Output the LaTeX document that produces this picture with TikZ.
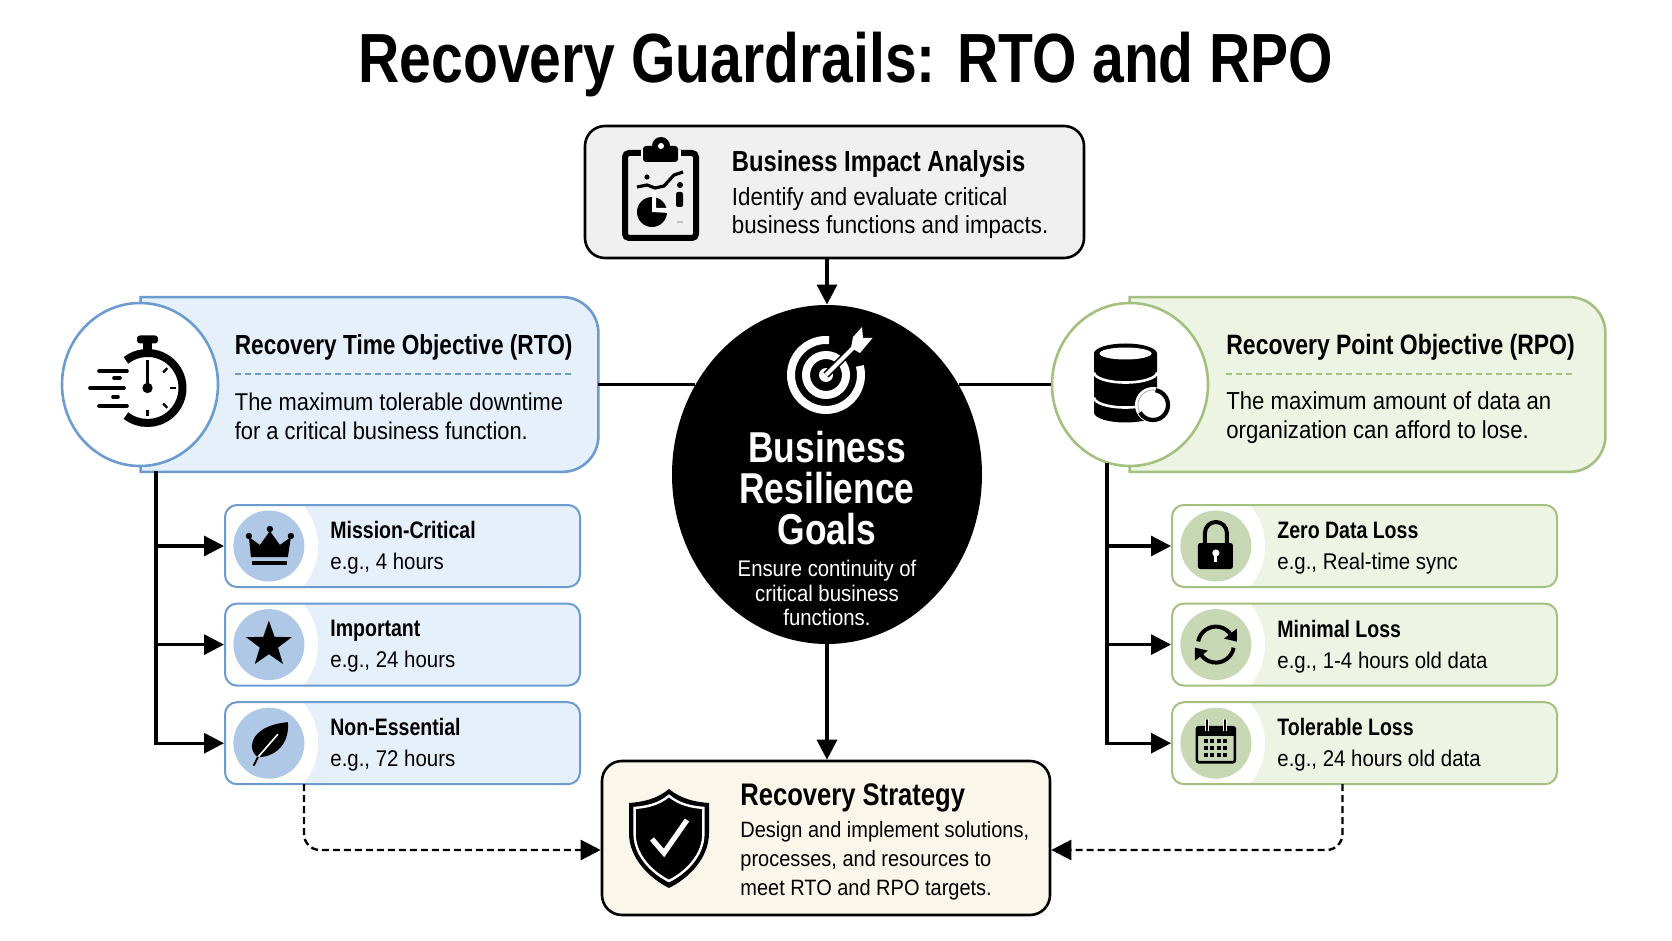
\documentclass[tikz,border=0pt]{standalone}
\usepackage{fontspec}
\setmainfont[FakeStretch=0.9,BoldFeatures={FakeStretch=0.82}]{Liberation Sans}
\usetikzlibrary{arrows.meta,positioning,shapes.geometric}
\definecolor{rtoline}{HTML}{6C9BCF}
\definecolor{rtofill}{HTML}{E6F0FA}
\definecolor{rtodot}{HTML}{AEC8E6}
\definecolor{rpoline}{HTML}{A3C07F}
\definecolor{rpofill}{HTML}{EDF4E4}
\definecolor{rpodot}{HTML}{C8D8B4}
\definecolor{biafill}{HTML}{F0F0F0}
\definecolor{stratfill}{HTML}{FBF6EA}
\newcommand{\subhead}[1]{{\fontsize{11.9}{15.5}\selectfont\bfseries #1}}
\tikzset{
  link/.style={line width=1.6pt,-{Triangle[length=10pt,width=10pt]}},
  plainlink/.style={line width=1.4pt},
  dashlink/.style={line width=1.2pt,dash pattern=on 3.5pt off 2pt,rounded corners=8pt,-{Triangle[length=10pt,width=10pt]}},
  mainbox/.style={draw=black,line width=1.3pt,rounded corners=10pt,inner sep=0pt},
  panelbase/.style={inner sep=0pt,minimum height=87pt},
  round/.style={ellipse,draw=#1,fill=white,line width=1.3pt,inner sep=0pt,minimum width=78pt,minimum height=81.5pt},
  subbox/.style={draw=#1line,fill=#1fill,line width=1pt,rounded corners=6pt,inner sep=0pt,minimum height=41pt,
    path picture={\fill[white] ([xshift=15pt]path picture bounding box.west) circle[radius=31.5pt];}},
  dot/.style={circle,fill=#1dot,inner sep=0pt,minimum size=35.5pt},
  boxhead/.style={anchor=west,inner sep=0pt,font=\fontsize{#1}{16}\selectfont\bfseries},
  boxtext/.style={anchor=west,inner sep=0pt,align=left,font=\fontsize{#1}{14.4}\selectfont},
  subtext/.style={anchor=west,inner sep=0pt,yshift=-1pt,align=left,font=\fontsize{11.35}{15.5}\selectfont},
  goaltext/.style={white,inner sep=0pt,align=center},
  clipicon/.pic={
    \draw[line width=3pt,rounded corners=2pt] (-36,-37) rectangle (35,48);
    \fill[white] (-20,-40) rectangle (20,-32);
    \fill[rounded corners=1.5pt] (-18,-44) rectangle (17,-28);
    \fill (0,-44) circle[radius=4.5pt];
    \fill[white] (0,-44) circle[radius=1.5pt];
    \draw[line width=1.6pt] (-24,-3) -- (-14,-5) -- (-6,-2) -- (3,-4) -- (13,-15) -- (22,-18);
    \fill (-14,-13) circle[radius=1.3pt];
    \fill (-9,22) circle[radius=7.5pt];
    \fill[white] (-9,22) -- (-9,2) -- (-5,2) -- (-5,18) -- (9,18) -- (9,23) -- cycle;
    \fill[rounded corners=1pt] (15,2) rectangle (22,17);
    \fill (19,-5) circle[radius=1.5pt];
    \fill[gray!50] (16,31) rectangle (22,33);
  },
  watchicon/.pic={
    \fill[rounded corners=1.5pt] (-3,-49) rectangle (18,-41);
    \fill (3,-42) rectangle (12,-33);
    \draw[line width=4pt] (7.5,3.5) ++(128:17.5pt) arc[start angle=128,end angle=-128,radius=17.5pt];
    \draw[line width=1.6pt] (7.5,-24) -- (7.5,3.5);
    \fill (7.5,3.5) circle[radius=2.6pt];
    \foreach \a in {45,0,-45,-90}
      \draw[line width=1.1pt] (7.5,3.5) ++(\a:11pt) -- ++(\a:3pt);
    \draw[line width=1.8pt,line cap=round] (-41,-13.5) -- (-13,-13.5);
    \draw[line width=1.8pt,line cap=round] (-26,-6.5) -- (-20,-6.5);
    \draw[line width=1.8pt,line cap=round] (-50,3.5) -- (-16,3.5);
    \draw[line width=1.8pt,line cap=round] (-27,12.5) -- (-22,12.5);
    \draw[line width=1.8pt,line cap=round] (-41,21.5) -- (-13,21.5);
  },
  dbicon/.pic={
    \fill (-36,-31) arc[start angle=180,end angle=0,x radius=15.75pt,y radius=5pt]
      -- (27,28) arc[start angle=0,end angle=-180,x radius=15.75pt,y radius=5pt] -- cycle;
    \fill[white] (-4.5,-31) ellipse[x radius=13pt,y radius=3pt];
    \draw[white,line width=1.3pt] (-36,-12) arc[start angle=180,end angle=360,x radius=15.75pt,y radius=5pt];
    \draw[white,line width=1.3pt] (-36,13) arc[start angle=180,end angle=360,x radius=15.75pt,y radius=5pt];
    \fill[white] (23,20.5) circle[radius=9pt];
    \draw[gray!70,line width=.4pt] (23,20.5) circle[radius=7.5pt];
    \draw[line width=2.1pt] (23,20.5) ++(80:7.5pt) arc[start angle=80,end angle=-150,radius=7.5pt];
  },
  goalicon/.pic={
    \draw[white,line width=4pt] (0,0) ++(85:17.5pt) arc[start angle=85,end angle=375,radius=17.5pt];
    \draw[white,line width=4pt] (0,0) circle[radius=10pt];
    \fill[white] (0,0) circle[radius=3.5pt];
    \draw[black,line width=3.6pt] (0,0) -- (27,-27);
    \draw[white,line width=2pt] (0,0) -- (27,-27);
    \fill[white] (27,-38) -- (36,-48) -- (37,-37) -- (46.5,-37) -- (34,-22) -- (25,-27) -- cycle;
  },
  crownicon/.pic={
    \fill (-18,11) -- (-20,-9) -- (-9,-1) -- (1,-15) -- (11,-1) -- (22,-9) -- (19,11) -- cycle;
    \fill (-20,-10) circle[radius=1.6pt] (1,-17) circle[radius=1.6pt] (22,-10) circle[radius=1.6pt];
    \fill (-17,15) rectangle (18,19);
  },
  staricon/.pic={
    \fill (90:12pt) -- (126:4.8pt) -- (162:12pt) -- (198:4.8pt) -- (234:12pt) -- (270:4.8pt)
      -- (306:12pt) -- (342:4.8pt) -- (18:12pt) -- (54:4.8pt) -- cycle;
  },
  leaficon/.pic={
    \fill (19,-21) .. controls (5,-20) and (-16,-14) .. (-17,3) .. controls (-17,8) and (-14,12) .. (-11,14)
      .. controls (5,14) and (21,2) .. (19,-21) -- cycle;
    \draw[white,line width=.8pt] (9,-9) -- (-11,14);
    \draw[line width=1pt,line cap=round] (-11,14) -- (-15,22);
  },
  lockicon/.pic={
    \draw[line width=2pt] (-11,0) -- (-11,-13) arc[start angle=180,end angle=0,radius=5.5pt] -- (11,0);
    \fill[rounded corners=1.2pt] (-18,-3) rectangle (17,23);
    \fill[white] (0,7) circle[radius=1.8pt];
    \fill[white] (-1.5,7) rectangle (1.5,16);
  },
  syncicon/.pic={
    \draw[line width=2pt] (170:9pt) arc[start angle=170,end angle=30,radius=9pt];
    \draw[line width=2pt] (-10:9pt) arc[start angle=-10,end angle=-150,radius=9pt];
    \fill (21,-16) -- (21,-3) -- (8,-6) -- cycle;
    \fill (-21,16) -- (-21,3) -- (-8,6) -- cycle;
  },
  calicon/.pic={
    \draw[line width=1.3pt,rounded corners=1pt] (-19,-16) rectangle (19,19);
    \fill (-19,-16) rectangle (19,-7);
    \draw[white,line width=2.4pt] (-9,-24) -- (-9,-12) (9,-24) -- (9,-12);
    \draw[line width=1.2pt,line cap=round] (-9,-23) -- (-9,-13) (9,-23) -- (9,-13);
    \foreach \py in {-2,5,12}
      \foreach \px in {-10,-3.5,3,9.5}
        \fill (\px-2,\py-2) rectangle (\px+2,\py+2);
  },
  shieldicon/.pic={
    \fill (0,-49) .. controls (12,-39) and (26,-36) .. (40,-35) -- (40,-5) .. controls (40,20) and (20,40) .. (0,50)
      .. controls (-20,40) and (-40,20) .. (-40,-5) -- (-40,-35) .. controls (-26,-36) and (-12,-39) .. (0,-49) -- cycle;
    \draw[white,line width=1.2pt,scale=.86] (0,-49) .. controls (12,-39) and (26,-36) .. (40,-35) -- (40,-5) .. controls (40,20) and (20,40) .. (0,50)
      .. controls (-20,40) and (-40,20) .. (-40,-5) -- (-40,-35) .. controls (-26,-36) and (-12,-39) .. (0,-49) -- cycle;
    \draw[white,line width=2.6pt] (-17,1) -- (-5,15) -- (18,-18);
  }
}
\begin{document}
\begin{tikzpicture}[x=.5pt,y=-.5pt,node distance=7.3pt]
  \useasboundingbox (0,0) rectangle (1672,941);
  \node[inner sep=0pt,font=\fontsize{34.8}{36}\selectfont\bfseries] (title) at (846,65) {Recovery Guardrails: RTO and RPO};

  \node[mainbox,fill=biafill,minimum width=249.5pt,minimum height=66pt] (bia) at (834.5,192) {};
  \node[ellipse,fill=black,inner sep=0pt,minimum width=155pt,minimum height=169.5pt] (goal) at (827,474.5) {};
  \node[mainbox,fill=stratfill,minimum width=224pt,minimum height=77pt] (strategy) at (826,838) {};

  \node[panelbase,minimum width=228.5pt] (rtoPanel) at (369.5,384.5) {};
  \node[panelbase,minimum width=237.5pt] (rpoPanel) at (1367.5,384.5) {};
  \draw[draw=rtoline,fill=rtofill,line width=1.3pt] (rtoPanel.north west) [rounded corners=18pt] -- (rtoPanel.north east) -- (rtoPanel.south east) [sharp corners] -- (rtoPanel.south west) -- cycle;
  \draw[draw=rpoline,fill=rpofill,line width=1.3pt] (rpoPanel.north west) [rounded corners=18pt] -- (rpoPanel.north east) -- (rpoPanel.south east) [sharp corners] -- (rpoPanel.south west) -- cycle;
  \node[round=rtoline] (rtoCircle) at (140,384.5) {};
  \node[round=rpoline] (rpoCircle) at (1130,384.5) {};

  \node[subbox=rto,minimum width=177.5pt] (mission) at (402.5,546) {};
  \node[subbox=rto,minimum width=177.5pt,below=of mission] (important) {};
  \node[subbox=rto,minimum width=177.5pt,below=of important] (nonEssential) {};
  \node[subbox=rpo,minimum width=192.5pt] (zeroLoss) at (1364.5,546) {};
  \node[subbox=rpo,minimum width=192.5pt,below=of zeroLoss] (minimalLoss) {};
  \node[subbox=rpo,minimum width=192.5pt,below=of minimalLoss] (tolerableLoss) {};

  \node[dot=rto,right=4.5pt of mission.west] (missionDot) {};
  \node[dot=rto,right=4.5pt of important.west] (importantDot) {};
  \node[dot=rto,right=4.5pt of nonEssential.west] (nonEssentialDot) {};
  \node[dot=rpo,right=4.5pt of zeroLoss.west] (zeroDot) {};
  \node[dot=rpo,right=4.5pt of minimalLoss.west] (minimalDot) {};
  \node[dot=rpo,right=4.5pt of tolerableLoss.west] (tolerableDot) {};

  \coordinate (rtoTrunk) at (156,471);
  \coordinate (rpoTrunk) at (1107,463);
  \coordinate (rtoDrop) at (304,784);
  \coordinate (rpoDrop) at (1342.5,784);

  \draw[link] (goal.north |- bia.south) -- (goal.north);
  \draw[link] (goal.south) -- (goal.south |- strategy.north);
  \draw[plainlink] (rtoPanel.east) -- (rtoPanel.east -| goal.146);
  \draw[plainlink] (goal.34 |- rpoCircle.east) -- (rpoCircle.west);
  \draw[link] (rtoTrunk) |- (mission.west);
  \draw[link] (rtoTrunk) |- (important.west);
  \draw[link] (rtoTrunk) |- (nonEssential.west);
  \draw[link] (rpoTrunk) |- (zeroLoss.west);
  \draw[link] (rpoTrunk) |- (minimalLoss.west);
  \draw[link] (rpoTrunk) |- (tolerableLoss.west);
  \draw[dashlink] (rtoDrop) |- ([yshift=-6pt]strategy.west);
  \draw[dashlink] (rpoDrop) |- ([yshift=-6pt]strategy.east);

  \node[boxhead=14.5] (biaHead) at (731.5,164) {Business Impact Analysis};
  \node[boxtext=12.4] (biaText) at (731.5,213) {Identify and evaluate critical\\business functions and impacts.};
  \node[boxhead=15.6] (strategyHead) at (740,798) {Recovery Strategy};
  \node[boxtext=11.1] (strategyText) at (740,861) {Design and implement solutions,\\processes, and resources to\\meet RTO and RPO targets.};
  \node[boxhead=13.8] (rtoHead) at (234.5,347) {Recovery Time Objective (RTO)};
  \draw[rtoline,line width=.9pt,densely dashed] (234.5,374) -- (572.5,374);
  \node[boxtext=12.15] (rtoText) at (234.5,416.5) {The maximum tolerable downtime\\for a critical business function.};
  \node[boxhead=14] (rpoHead) at (1226,347) {Recovery Point Objective (RPO)};
  \draw[rpoline,line width=.9pt,densely dashed] (1226,374) -- (1574,374);
  \node[boxtext=12.3] (rpoText) at (1226,418) {The maximum amount of data an\\organization can afford to lose.};

  \node[subtext,right=53pt of mission.west] (missionText) {\subhead{Mission-Critical}\\e.g., 4 hours};
  \node[subtext,right=53pt of important.west] (importantText) {\subhead{Important}\\e.g., 24 hours};
  \node[subtext,right=53pt of nonEssential.west] (nonEssentialText) {\subhead{Non-Essential}\\e.g., 72 hours};
  \node[subtext,right=53pt of zeroLoss.west] (zeroText) {\subhead{Zero Data Loss}\\e.g., Real-time sync};
  \node[subtext,right=53pt of minimalLoss.west] (minimalText) {\subhead{Minimal Loss}\\e.g., 1-4 hours old data};
  \node[subtext,right=53pt of tolerableLoss.west] (tolerableText) {\subhead{Tolerable Loss}\\e.g., 24 hours old data};

  \node[goaltext,font=\fontsize{21.6}{20.5}\selectfont\bfseries] (goalHead) at (827,488) {Business\\Resilience\\Goals};
  \node[goaltext,font=\fontsize{11.3}{12.3}\selectfont] (goalText) at (827,593) {Ensure continuity of\\critical business\\functions.};

  \pic at (661,190) {clipicon};
  \pic at (140,384.5) {watchicon};
  \pic at (1130,384.5) {dbicon};
  \pic at (826,375) {goalicon};
  \pic at (669,838) {shieldicon};
  \pic at (missionDot) {crownicon};
  \pic at (importantDot) {staricon};
  \pic at (nonEssentialDot) {leaficon};
  \pic at (zeroDot) {lockicon};
  \pic at (minimalDot) {syncicon};
  \pic at (tolerableDot) {calicon};
\end{tikzpicture}
\end{document}
